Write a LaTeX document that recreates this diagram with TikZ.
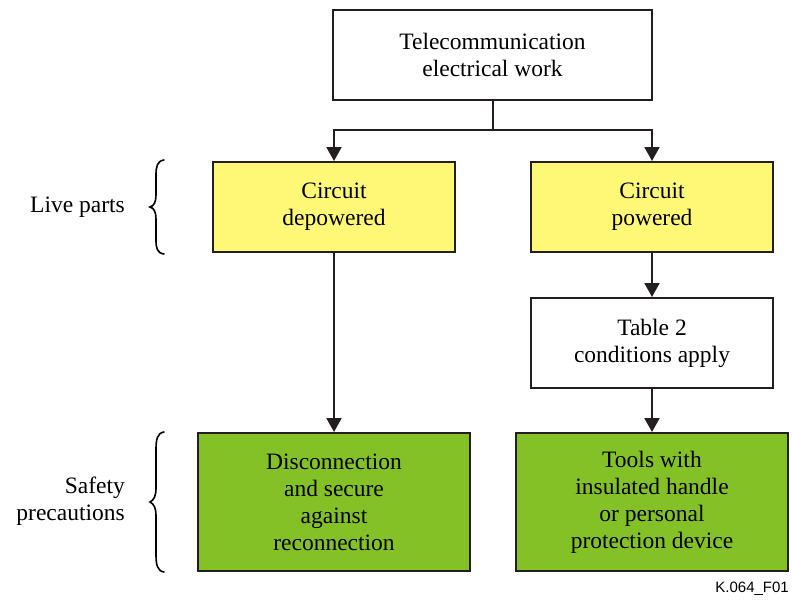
\documentclass[tikz,border=0pt]{standalone}
\usepackage{fontspec}
\setmainfont{Liberation Serif}
\newfontfamily\labelsans{Liberation Sans}
\usetikzlibrary{arrows.meta}
\definecolor{boxline}{HTML}{231F20}
\definecolor{yellowfill}{HTML}{FFF877}
\definecolor{greenfill}{HTML}{84C127}
\tikzset{
  box/.style={draw=boxline, line width=2pt, inner sep=0pt, align=center,
    font=\fontsize{23.5}{27}\selectfont, text=black},
  whitebox/.style={box, fill=white},
  yellowbox/.style={box, fill=yellowfill},
  greenbox/.style={box, fill=greenfill},
  conn/.style={draw=boxline, line width=2pt, -{Triangle[width=15pt,length=14pt]}},
  plainconn/.style={draw=boxline, line width=2pt},
  sidelabel/.style={align=right, anchor=east, inner sep=0pt, font=\fontsize{23.5}{27}\selectfont},
  bracestyle/.style={draw=black, line width=1.6pt, line cap=round}
}
\begin{document}
\begin{tikzpicture}[x=1pt,y=-1pt]
\path[use as bounding box, fill=white] (0,0) rectangle (792,600);

\node[whitebox, minimum width=319pt, minimum height=90pt] (top) at (492.5,55) {Telecommunication\\electrical work};
\node[yellowbox, minimum width=242pt, minimum height=90pt] (cd) at (334,207) {Circuit\\depowered};
\node[yellowbox, minimum width=242pt, minimum height=90pt] (cp) at (652,207) {Circuit\\powered};
\node[whitebox, minimum width=242pt, minimum height=90pt] (t2) at (652,343) {Table 2\\conditions apply};
\node[greenbox, minimum width=272pt, minimum height=138pt] (dis) at (334,502) {Disconnection\\and secure\\against\\reconnection};
\node[greenbox, minimum width=272pt, minimum height=138pt] (tools) at (652,502) {Tools with\\insulated handle\\or personal\\protection device};

\coordinate (split) at (492.5,130);
\draw[plainconn] (top.south) -- (split);
\draw[conn] (split) -| (cd.north);
\draw[conn] (split) -| (cp.north);
\draw[conn] (cd.south) -- (dis.north);
\draw[conn] (cp.south) -- (t2.north);
\draw[conn] (t2.south) -- (tools.north);

\node[sidelabel] (live) at (125,207) {Live parts};
\node[sidelabel] (safety) at (125,501) {Safety\\precautions};

\draw[bracestyle] (164,160) .. controls (157,161) and (156,167) .. (156,175) -- (156,195)
  .. controls (156,202) and (154,206) .. (150,207)
  .. controls (154,208) and (156,212) .. (156,219) -- (156,240)
  .. controls (156,248) and (157,253) .. (164,254);
\draw[bracestyle] (164,432) .. controls (157,433) and (156,440) .. (156,450) -- (156,488)
  .. controls (156,496) and (154,500) .. (150,502)
  .. controls (154,504) and (156,508) .. (156,516) -- (156,554)
  .. controls (156,564) and (157,571) .. (164,572);

\node[anchor=east, inner sep=0pt, font=\labelsans\fontsize{15}{18}\selectfont] (ref) at (789,589) {K.064\_F01};
\end{tikzpicture}
\end{document}
